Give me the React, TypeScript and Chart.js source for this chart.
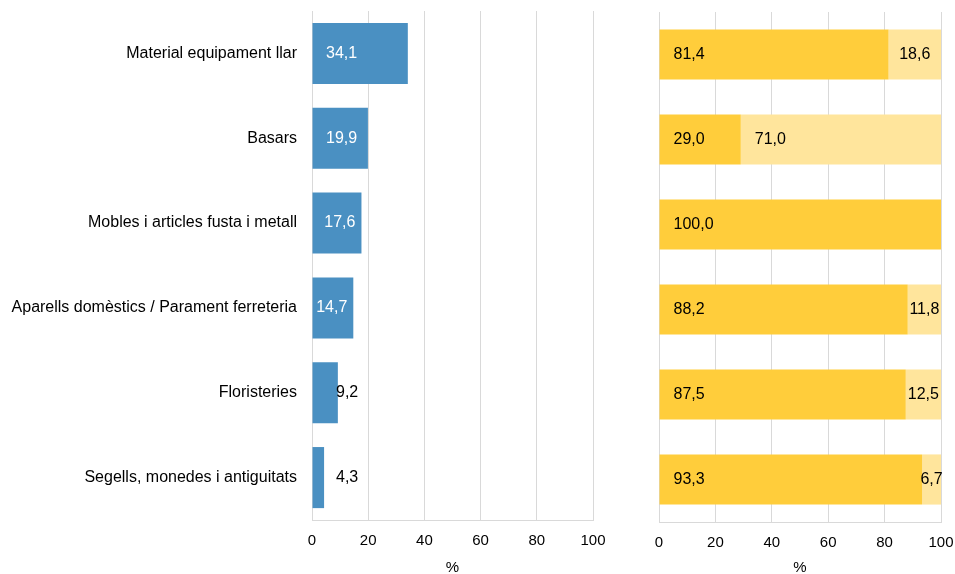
import React, { useEffect, useRef } from "react";
import { Chart, registerables } from "chart.js";

Chart.register(...registerables);

const categories = [
  "Material equipament llar",
  "Basars",
  "Mobles i articles fusta i metall",
  "Aparells domèstics / Parament ferreteria",
  "Floristeries",
  "Segells, monedes i antiguitats",
];
const shareValues = [34.1, 19.9, 17.6, 14.7, 9.2, 4.3];
const darkValues = [81.4, 29.0, 100.0, 88.2, 87.5, 93.3];
const lightValues = [18.6, 71.0, 0, 11.8, 12.5, 6.7];
const tickValues = [0, 20, 40, 60, 80, 100];

const FONT = "'Liberation Sans', Arial, sans-serif";
const fmt = (v: number) => v.toFixed(1).replace(".", ",");

const leftLabels = {
  id: "leftLabels",
  afterDatasetsDraw(chart: any) {
    const ctx = chart.ctx;
    const meta = chart.getDatasetMeta(0);
    const x0 = chart.scales.x.getPixelForValue(0);
    ctx.save();
    ctx.font = `16px ${FONT}`;
    ctx.textBaseline = "middle";
    ctx.textAlign = "left";
    meta.data.forEach((el: any, i: number) => {
      const v = shareValues[i];
      const t = fmt(v);
      const w = ctx.measureText(t).width;
      const { x, y } = el.getProps(["x", "y"], true);
      if (v >= 14) {
        const left = Math.min(x0 + 14, x - w - 6);
        ctx.fillStyle = "#ffffff";
        ctx.fillText(t, left, y);
      } else {
        ctx.fillStyle = "#000000";
        ctx.fillText(t, x0 + 24, y);
      }
    });
    ctx.restore();
  },
};

const rightLabels = {
  id: "rightLabels",
  afterDatasetsDraw(chart: any) {
    const ctx = chart.ctx;
    ctx.save();
    ctx.font = `16px ${FONT}`;
    ctx.textBaseline = "middle";
    ctx.textAlign = "left";
    ctx.fillStyle = "#000000";
    [darkValues, lightValues].forEach((vals, di) => {
      const meta = chart.getDatasetMeta(di);
      meta.data.forEach((el: any, i: number) => {
        const v = vals[i];
        if (!v) return;
        const t = fmt(v);
        const w = ctx.measureText(t).width;
        const { x, y, base } = el.getProps(["x", "y", "base"], true);
        const start = Math.min(x, base);
        const end = Math.max(x, base);
        const center = (start + end) / 2;
        const left = Math.min(start + 14, center - w / 2);
        ctx.fillText(t, left, y);
      });
    });
    ctx.restore();
  },
};

function xScale(height: number) {
  return {
    min: 0,
    max: 100,
    afterBuildTicks: (s: any) => {
      s.ticks = tickValues.map((v) => ({ value: v }));
    },
    afterFit: (s: any) => {
      s.height = height;
      s.paddingLeft = 0;
      s.paddingRight = 0;
    },
    ticks: { font: { family: FONT, size: 15 }, color: "#000000", padding: 12 },
    grid: { color: "#d9d9d9", drawTicks: false, lineWidth: 1 },
    border: { color: "#d9d9d9" },
    title: {
      display: true,
      text: "%",
      font: { family: FONT, size: 15 },
      color: "#000000",
      padding: { top: 0, bottom: -3 },
    },
  };
}

export default function App() {
  const leftRef = useRef<HTMLCanvasElement>(null);
  const rightRef = useRef<HTMLCanvasElement>(null);

  useEffect(() => {
    const left = new Chart(leftRef.current!, {
      type: "bar",
      data: {
        labels: categories,
        datasets: [
          {
            data: shareValues,
            backgroundColor: "#4a90c2",
            barPercentage: 0.72,
            categoryPercentage: 1,
          },
        ],
      },
      options: {
        indexAxis: "y",
        responsive: false,
        animation: false,
        devicePixelRatio: 1,
        layout: { padding: { top: 11, right: 27, left: 0, bottom: 0 } },
        plugins: { legend: { display: false }, tooltip: { enabled: false } },
        scales: {
          x: xScale(54) as any,
          y: {
            afterFit: (s: any) => {
              s.width = 312;
              s.paddingTop = 0;
              s.paddingBottom = 0;
            },
            ticks: { font: { family: FONT, size: 16 }, color: "#000000", padding: 15 },
            grid: { display: false, drawTicks: false },
            border: { display: false },
          },
        },
      },
      plugins: [leftLabels],
    });

    const right = new Chart(rightRef.current!, {
      type: "bar",
      data: {
        labels: categories,
        datasets: [
          {
            data: darkValues,
            backgroundColor: "#ffcd3b",
            barPercentage: 0.59,
            categoryPercentage: 1,
          },
          {
            data: lightValues,
            backgroundColor: "#ffe59c",
            barPercentage: 0.59,
            categoryPercentage: 1,
          },
        ],
      },
      options: {
        indexAxis: "y",
        responsive: false,
        animation: false,
        devicePixelRatio: 1,
        layout: { padding: { top: 12, right: 14, left: 29, bottom: 0 } },
        plugins: { legend: { display: false }, tooltip: { enabled: false } },
        scales: {
          x: { ...(xScale(52) as any), stacked: true },
          y: { display: false, stacked: true },
        },
      },
      plugins: [rightLabels],
    });

    return () => {
      left.destroy();
      right.destroy();
    };
  }, []);

  return (
    <div style={{ position: "fixed", left: 0, top: 0, width: 955, height: 574, background: "#fff" }}>
      <canvas ref={leftRef} width={620} height={574} style={{ position: "absolute", left: 0, top: 0 }} />
      <canvas ref={rightRef} width={325} height={574} style={{ position: "absolute", left: 630, top: 0 }} />
    </div>
  );
}
